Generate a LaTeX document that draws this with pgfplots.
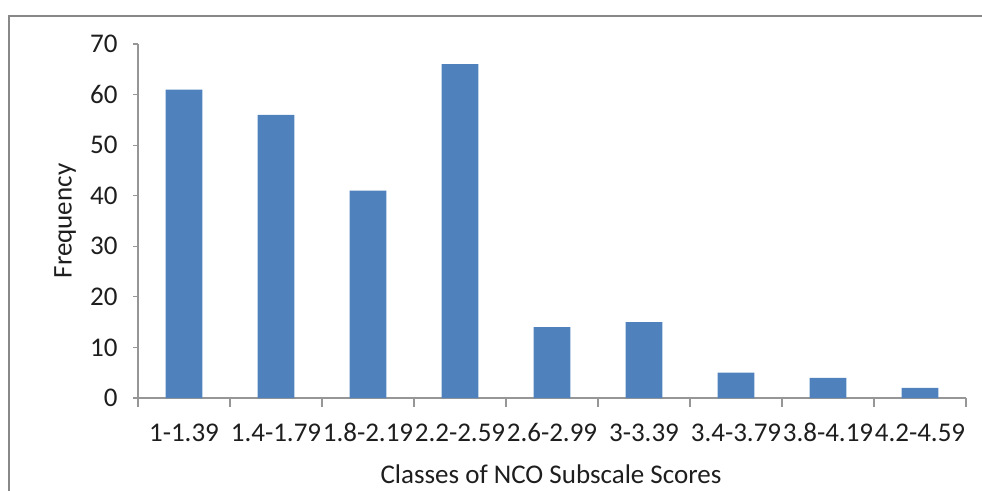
\documentclass[border=0pt]{standalone}
\usepackage{fontspec}
\setmainfont{Carlito}
\usepackage{pgfplots}
\pgfplotsset{compat=1.18}
\definecolor{barblue}{RGB}{79,129,189}
\definecolor{axgray}{RGB}{150,150,150}
\definecolor{framegray}{RGB}{136,136,136}
\definecolor{txt}{RGB}{30,30,30}
\begin{document}
\begin{tikzpicture}[font=\fontsize{27bp}{31bp}\selectfont]
\useasboundingbox (0,0) rectangle (982bp,491bp);
% chart frame
\draw[framegray, line width=2bp] (9bp,-2bp) -- (9bp,475bp) -- (984bp,475bp);
\begin{axis}[
  at={(138bp,93bp)}, anchor=south west,
  scale only axis, width=828bp, height=354bp,
  xmin=-0.5, xmax=8.5, ymin=0, ymax=70,
  axis lines*=left,
  axis line style={axgray, line width=1.2bp},
  tick align=outside,
  ytick={0,10,...,70},
  major tick length=5bp,
  tick style={axgray, line width=1.2bp},
  xtick={0,...,8},
  xticklabels={1-1.39,1.4-1.79,1.8-2.19,2.2-2.59,2.6-2.99,3-3.39,3.4-3.79,3.8-4.19,4.2-4.59},
  major x tick style={draw=none},
  minor xtick={-0.5,0.5,...,8.5},
  minor tick length=9bp,
  /pgf/number format/assume math mode=true,
  yticklabel style={txt, xshift=-12bp},
  xticklabel style={txt, yshift=-17bp},
  xlabel={Classes of NCO Subscale Scores},
  ylabel={Frequency},
  xlabel style={txt, at={(axis description cs:0.4988,-0.215)}, anchor=center},
  ylabel style={txt, at={(axis description cs:-0.088,0.5)}, anchor=center},
  clip=false,
]
\addplot[ybar, bar width=0.4, fill=barblue, draw=none] coordinates {
  (0,61) (1,56) (2,41) (3,66) (4,14) (5,15) (6,5) (7,4) (8,2)
};
\end{axis}
\end{tikzpicture}
\end{document}
